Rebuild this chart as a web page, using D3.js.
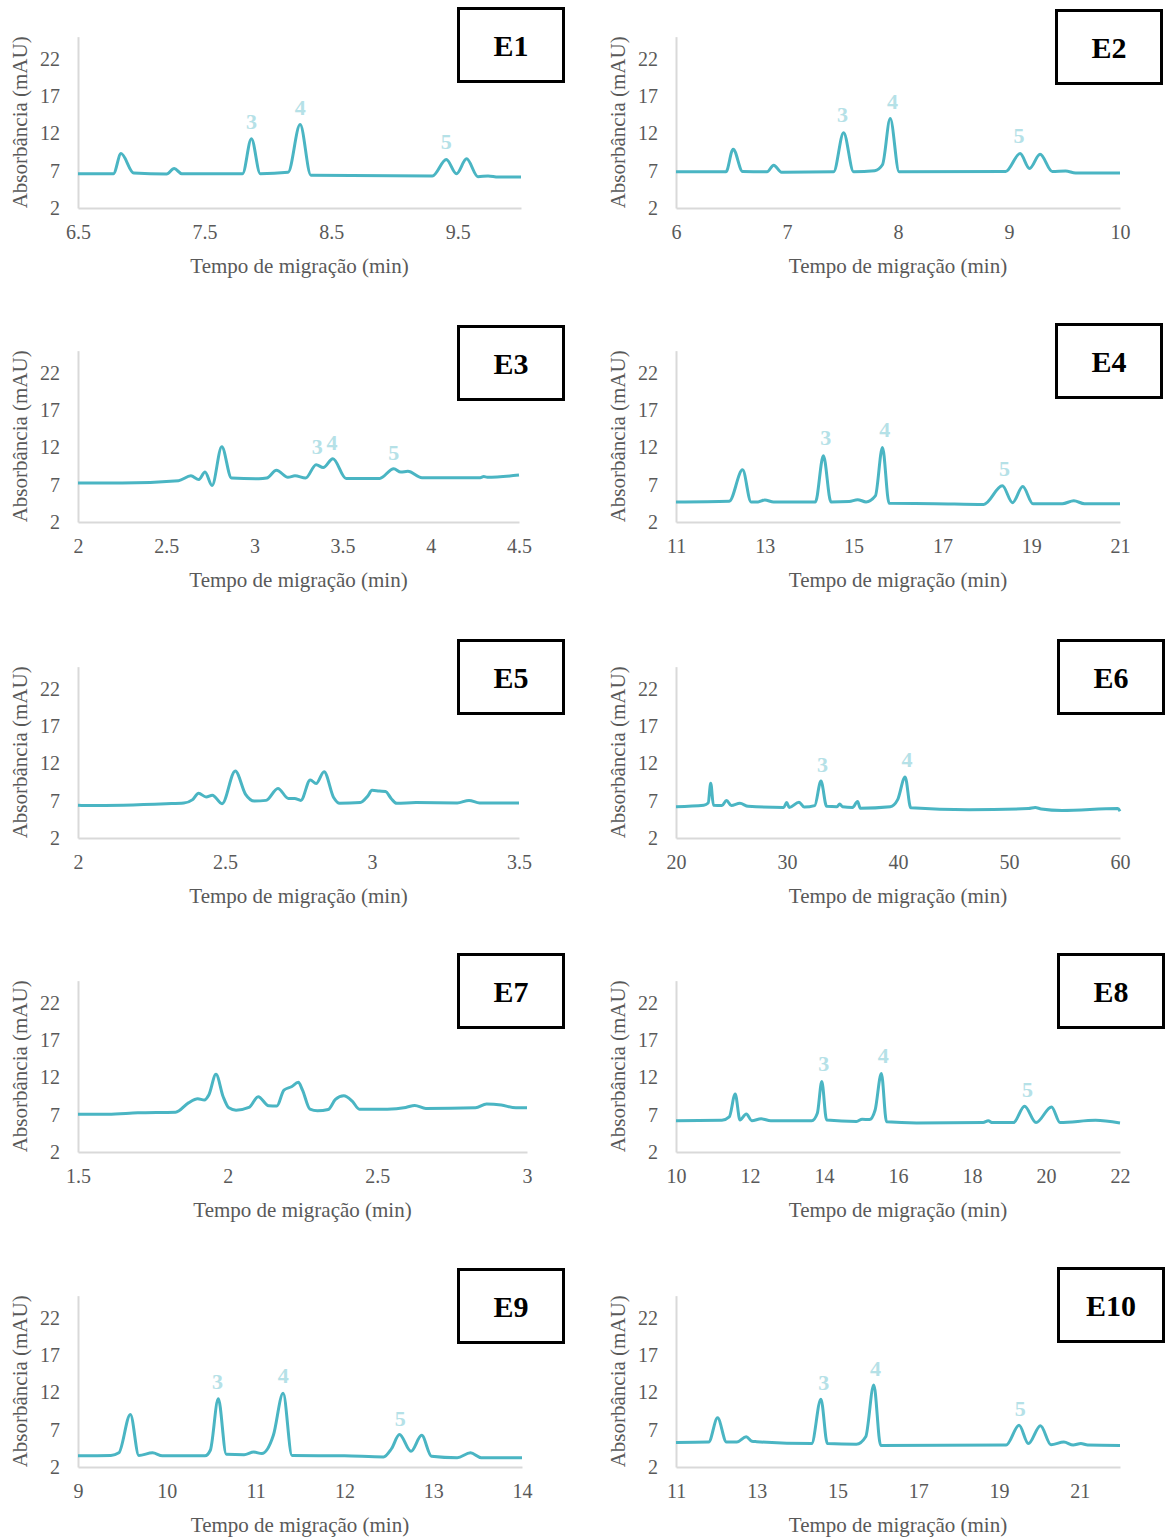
<!DOCTYPE html>
<html>
<head>
<meta charset="utf-8">
<script src="https://cdn.jsdelivr.net/npm/d3@7"></script>
<style>
  body { margin: 0; background: #fff; }
  text { font-family: "Liberation Serif", "Times New Roman", serif; }
</style>
</head>
<body>
<svg id="chart"></svg>
<script>
// Readings of the ten electropherograms (time in min, absorbance in mAU)
const absTicks = [2, 7, 12, 17, 22];

const e1Time = [6.5, 6.78, 6.84, 6.94, 7.2, 7.26, 7.32, 7.8, 7.87, 7.94, 8.16, 8.255, 8.34, 9.3, 9.41, 9.49, 9.57, 9.66, 9.74, 9.82, 10.0];
const e1Abs = [6.6, 6.6, 9.3, 6.7, 6.55, 7.3, 6.6, 6.6, 11.3, 6.6, 6.8, 13.2, 6.4, 6.3, 8.5, 6.6, 8.6, 6.2, 6.3, 6.15, 6.15];
const e1Ticks = [6.5, 7.5, 8.5, 9.5];
const e1Peaks = [["3", 7.87, 13.7], ["4", 8.255, 15.6], ["5", 9.41, 11.0]];

const e2Time = [6.0, 6.45, 6.515, 6.6, 6.82, 6.88, 6.95, 7.42, 7.51, 7.6, 7.79, 7.86, 7.93, 8.01, 8.97, 9.1, 9.185, 9.28, 9.39, 9.51, 9.6, 10.0];
const e2Abs = [6.85, 6.85, 9.9, 6.9, 6.85, 7.75, 6.8, 6.85, 12.1, 6.85, 7.0, 7.8, 14.0, 6.85, 6.9, 9.3, 7.3, 9.2, 6.9, 6.95, 6.7, 6.7];
const e2Ticks = [6, 7, 8, 9, 10];
const e2Peaks = [["3", 7.5, 14.6], ["4", 7.95, 16.4], ["5", 9.09, 11.75]];

const e3Time = [2.0, 2.25, 2.57, 2.64, 2.685, 2.72, 2.76, 2.815, 2.87, 3.025, 3.07, 3.125, 3.19, 3.23, 3.29, 3.35, 3.39, 3.445, 3.52, 3.71, 3.79, 3.83, 3.87, 3.95, 4.28, 4.3, 4.32, 4.5];
const e3Abs = [7.25, 7.25, 7.55, 8.2, 7.7, 8.7, 6.9, 12.1, 7.9, 7.8, 7.9, 8.95, 8.0, 8.2, 7.9, 9.7, 9.3, 10.5, 7.85, 7.85, 9.15, 8.7, 8.8, 7.95, 7.95, 8.1, 8.0, 8.3];
const e3Ticks = [2, 2.5, 3, 3.5, 4, 4.5];
const e3Peaks = [["3", 3.356, 12.2], ["4", 3.44, 12.75], ["5", 3.79, 11.4]];

const e4Time = [11, 12.2, 12.5, 12.69, 12.85, 13.0, 13.2, 14.14, 14.32, 14.49, 14.9, 15.09, 15.28, 15.49, 15.65, 15.8, 16.83, 17.93, 18.35, 18.58, 18.81, 19.04, 19.7, 19.96, 20.2, 21];
const e4Abs = [4.7, 4.8, 9.0, 4.7, 4.7, 4.95, 4.7, 4.7, 10.9, 4.7, 4.75, 5.0, 4.7, 5.5, 12.0, 4.5, 4.45, 4.35, 6.85, 4.6, 6.75, 4.45, 4.45, 4.85, 4.45, 4.45];
const e4Ticks = [11, 13, 15, 17, 19, 21];
const e4Peaks = [["3", 14.37, 13.4], ["4", 15.7, 14.5], ["5", 18.4, 9.3]];

const e5Time = [2.0, 2.04, 2.3, 2.36, 2.39, 2.41, 2.436, 2.457, 2.49, 2.535, 2.57, 2.6, 2.64, 2.68, 2.716, 2.737, 2.758, 2.79, 2.81, 2.837, 2.87, 2.89, 2.96, 2.985, 3.0, 3.025, 3.046, 3.065, 3.084, 3.15, 3.29, 3.33, 3.366, 3.5];
const e5Abs = [6.4, 6.35, 6.6, 6.7, 7.15, 8.0, 7.5, 7.75, 6.6, 11.0, 7.85, 6.95, 7.05, 8.65, 7.3, 7.3, 7.05, 9.8, 9.3, 10.9, 7.4, 6.65, 6.75, 7.6, 8.4, 8.3, 8.25, 7.3, 6.65, 6.75, 6.7, 7.05, 6.7, 6.7];
const e5Ticks = [2, 2.5, 3, 3.5];
const e5Peaks = [];

const e6Time = [20, 22.5, 22.9, 23.13, 23.37, 24.14, 24.55, 24.98, 25.76, 26.5, 29.7, 29.97, 30.2, 31.08, 31.55, 32.5, 33.06, 33.57, 34.5, 34.75, 35.0, 35.9, 36.36, 36.6, 39.3, 39.97, 40.64, 41.15, 46.4, 51.75, 52.36, 52.9, 54.78, 59.8, 60];
const e6Abs = [6.2, 6.4, 6.7, 9.35, 6.4, 6.35, 7.05, 6.35, 6.65, 6.25, 6.1, 6.75, 6.1, 6.8, 6.15, 6.35, 9.65, 6.25, 6.2, 6.55, 6.2, 6.1, 6.9, 6.0, 6.2, 7.15, 10.2, 6.05, 5.8, 5.95, 6.1, 5.9, 5.7, 5.95, 5.6];
const e6Ticks = [20, 30, 40, 50, 60];
const e6Peaks = [["3", 33.2, 11.9], ["4", 40.8, 12.6]];

const e7Time = [1.5, 1.6, 1.7, 1.826, 1.869, 1.9, 1.922, 1.937, 1.961, 1.985, 2.004, 2.028, 2.071, 2.102, 2.137, 2.164, 2.188, 2.213, 2.236, 2.25, 2.275, 2.3, 2.336, 2.36, 2.388, 2.416, 2.44, 2.533, 2.595, 2.625, 2.662, 2.828, 2.865, 2.914, 2.963, 3.0];
const e7Abs = [7.08, 7.08, 7.26, 7.35, 8.6, 9.15, 8.97, 9.64, 12.43, 9.42, 7.93, 7.62, 7.98, 9.42, 8.2, 8.16, 10.31, 10.76, 11.35, 10.31, 7.75, 7.53, 7.71, 9.06, 9.55, 8.83, 7.75, 7.75, 7.98, 8.25, 7.84, 7.93, 8.43, 8.3, 7.93, 7.93];
const e7Ticks = [1.5, 2, 2.5, 3];
const e7Peaks = [];

const e8Time = [10, 11.24, 11.44, 11.6, 11.73, 11.9, 12.05, 12.3, 12.56, 13.67, 13.82, 13.94, 14.07, 14.88, 15.03, 15.23, 15.38, 15.55, 15.69, 16.5, 18.3, 18.44, 18.55, 19.12, 19.42, 19.73, 20.15, 20.38, 21.34, 22];
const e8Abs = [6.2, 6.25, 6.7, 9.8, 6.3, 7.1, 6.2, 6.45, 6.2, 6.2, 7.2, 11.45, 6.3, 6.1, 6.4, 6.35, 7.6, 12.55, 6.05, 5.9, 5.95, 6.2, 5.95, 5.95, 8.15, 5.95, 8.05, 5.95, 6.25, 5.9];
const e8Ticks = [10, 12, 14, 16, 18, 20, 22];
const e8Peaks = [["3", 13.99, 13.9], ["4", 15.6, 15.0], ["5", 19.5, 10.5]];

const e9Time = [9, 9.37, 9.46, 9.59, 9.685, 9.84, 9.95, 10.43, 10.49, 10.58, 10.67, 10.87, 10.98, 11.07, 11.2, 11.31, 11.41, 12.0, 12.44, 12.53, 12.62, 12.75, 12.87, 12.98, 13.27, 13.42, 13.54, 14];
const e9Abs = [3.5, 3.55, 3.9, 9.05, 3.55, 3.9, 3.5, 3.5, 4.25, 11.15, 3.7, 3.65, 4.0, 3.8, 6.25, 11.9, 3.55, 3.5, 3.35, 4.45, 6.35, 4.1, 6.25, 3.45, 3.25, 3.9, 3.25, 3.25];
const e9Ticks = [9, 10, 11, 12, 13, 14];
const e9Peaks = [["3", 10.57, 13.5], ["4", 11.31, 14.3], ["5", 12.63, 8.6]];

const e10Time = [11, 11.81, 12.03, 12.25, 12.51, 12.74, 12.88, 13.0, 14.36, 14.59, 14.75, 15.47, 15.7, 15.9, 16.07, 19.18, 19.5, 19.73, 20.03, 20.29, 20.61, 20.84, 21.03, 21.2, 22];
const e10Abs = [5.3, 5.35, 8.6, 5.35, 5.35, 6.05, 5.45, 5.4, 5.15, 11.1, 5.15, 5.05, 6.05, 13.0, 4.9, 4.95, 7.6, 5.15, 7.55, 5.0, 5.35, 4.95, 5.15, 4.95, 4.9];
const e10Ticks = [11, 13, 15, 17, 19, 21];
const e10Peaks = [["3", 14.66, 13.4], ["4", 15.94, 15.3], ["5", 19.53, 9.95]];

const panels = [
  { name: "E1", time: e1Time, abs: e1Abs, ticks: e1Ticks, domain: [6.5, 10], peaks: e1Peaks },
  { name: "E2", time: e2Time, abs: e2Abs, ticks: e2Ticks, domain: [6, 10], peaks: e2Peaks },
  { name: "E3", time: e3Time, abs: e3Abs, ticks: e3Ticks, domain: [2, 4.5], peaks: e3Peaks },
  { name: "E4", time: e4Time, abs: e4Abs, ticks: e4Ticks, domain: [11, 21], peaks: e4Peaks },
  { name: "E5", time: e5Time, abs: e5Abs, ticks: e5Ticks, domain: [2, 3.5], peaks: e5Peaks },
  { name: "E6", time: e6Time, abs: e6Abs, ticks: e6Ticks, domain: [20, 60], peaks: e6Peaks },
  { name: "E7", time: e7Time, abs: e7Abs, ticks: e7Ticks, domain: [1.5, 3], peaks: e7Peaks },
  { name: "E8", time: e8Time, abs: e8Abs, ticks: e8Ticks, domain: [10, 22], peaks: e8Peaks },
  { name: "E9", time: e9Time, abs: e9Abs, ticks: e9Ticks, domain: [9, 14], peaks: e9Peaks },
  { name: "E10", time: e10Time, abs: e10Abs, ticks: e10Ticks, domain: [11, 22], peaks: e10Peaks }
];

// layout
const W = 1166, H = 1539;
const axisY = [208, 522, 838, 1152, 1467];
const colLeft = [78, 676];
const colRight = [[521, 1120], [519, 1120], [519, 1120], [527, 1120], [522, 1120]];
const boxPos = [[457, 7], [1055, 9], [457, 325], [1055, 323], [457, 639], [1057, 639], [457, 953], [1057, 953], [457, 1268], [1057, 1267]];

const lineColor = "#4ab5c3";
const labelColor = "#b5e1e7";
const textColor = "#595959";

const svg = d3.select("#chart").attr("width", W).attr("height", H);

panels.forEach((p, i) => {
  const row = Math.floor(i / 2), col = i % 2;
  const bottom = axisY[row];
  const x0 = colLeft[col], x1 = colRight[row][col];

  const x = d3.scaleLinear().domain(p.domain).range([x0, x1]);
  const y = d3.scaleLinear().domain([2, 22]).range([bottom, bottom - 149]);
  const yTop = y(25);

  const g = svg.append("g");

  // y axis
  const yAxis = g.append("g")
    .attr("transform", `translate(${x0},0)`)
    .call(d3.axisLeft(y.copy().domain([2, 25]).range([bottom, yTop]))
      .tickValues(absTicks).tickSize(0).tickPadding(18));

  // x axis
  const xAxis = g.append("g")
    .attr("transform", `translate(0,${bottom})`)
    .call(d3.axisBottom(x).tickValues(p.ticks).tickSize(0).tickPadding(17)
      .tickFormat(d3.format("")));

  [yAxis, xAxis].forEach(a => {
    a.select(".domain").attr("stroke", "#d9d9d9").attr("stroke-width", 2);
    a.selectAll("text").attr("fill", textColor).attr("font-size", 20)
      .attr("font-family", '"Liberation Serif", "Times New Roman", serif');
  });

  // axis titles
  g.append("text")
    .attr("x", (x0 + x1) / 2)
    .attr("y", bottom + 65)
    .attr("text-anchor", "middle")
    .attr("font-size", 21)
    .attr("fill", textColor)
    .text("Tempo de migração (min)");

  g.append("text")
    .attr("transform", `translate(${x0 - 51},${(bottom + yTop) / 2}) rotate(-90)`)
    .attr("text-anchor", "middle")
    .attr("font-size", 21)
    .attr("fill", textColor)
    .text("Absorbância (mAU)");

  // trace
  const pts = p.time.map((t, k) => [t, p.abs[k]]);
  g.append("path")
    .datum(pts)
    .attr("fill", "none")
    .attr("stroke", lineColor)
    .attr("stroke-width", 3)
    .attr("stroke-linejoin", "round")
    .attr("d", d3.line().x(d => x(d[0])).y(d => y(d[1])).curve(d3.curveMonotoneX));

  // peak numbers
  g.selectAll("text.peak")
    .data(p.peaks)
    .enter()
    .append("text")
    .attr("class", "peak")
    .attr("x", d => x(d[1]))
    .attr("y", d => y(d[2]) + 8)
    .attr("text-anchor", "middle")
    .attr("font-size", 22)
    .attr("font-weight", "bold")
    .attr("fill", labelColor)
    .text(d => d[0]);

  // name box
  const [bx, by] = boxPos[i];
  g.append("rect")
    .attr("x", bx + 1.5).attr("y", by + 1.5)
    .attr("width", 105).attr("height", 73)
    .attr("fill", "#fff")
    .attr("stroke", "#000")
    .attr("stroke-width", 3);
  g.append("text")
    .attr("x", bx + 54)
    .attr("y", by + 49)
    .attr("text-anchor", "middle")
    .attr("font-size", 30)
    .attr("font-weight", "bold")
    .attr("fill", "#000")
    .text(p.name);
});
</script>
</body>
</html>
